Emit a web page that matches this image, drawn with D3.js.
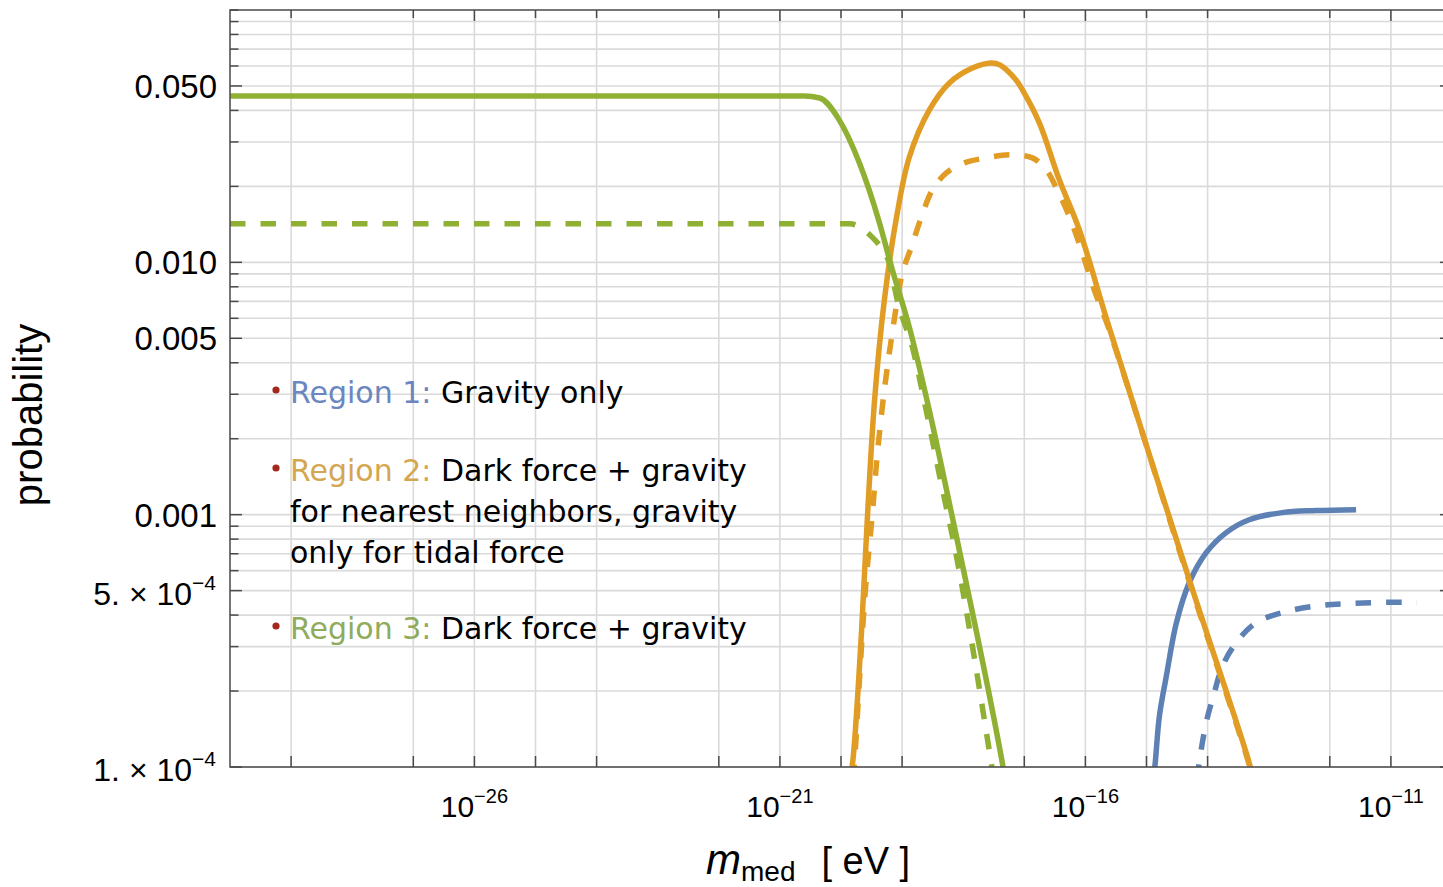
<!DOCTYPE html>
<html>
<head>
<meta charset="utf-8">
<script src="https://cdn.jsdelivr.net/npm/d3@7"></script>
<style>
body { margin: 0; background: #fff; }
</style>
</head>
<body>
<svg width="1443" height="887"></svg>
<script>
// values: log10(m_med / eV) and probability
var region1SolidLogM = [-14.89, -14.857, -14.79, -14.677, -14.51, -14.30, -14.023, -13.696, -13.32, -12.78, -12.224, -11.57];
var region1SolidP = [0.000089, 0.000104, 0.0001585, 0.000228, 0.0003735, 0.000538, 0.000707, 0.000849, 0.000955, 0.001019, 0.001038, 0.001047];
var region1DashLogM = [-14.17, -14.137, -14.023, -13.89, -13.76, -13.532, -13.205, -12.714, -12.175, -11.685, -11.145, -10.573];
var region1DashP = [0.000089, 0.000104, 0.00015, 0.000197, 0.00025, 0.000311, 0.000373, 0.000413, 0.000436, 0.000444, 0.000449, 0.000449];

var region2SolidLogM = [-19.86, -19.81, -19.665, -19.567, -19.45, -19.29, -19.09, -18.88, -18.553, -18.226, -17.85, -17.539, -17.40, -17.135, -17.03, -16.754, -16.427, -16.10, -15.61, -14.30, -13.32, -13.254];
var region2SolidP = [0.000089, 0.000104, 0.000341, 0.000982, 0.002853, 0.0071, 0.01514, 0.0262, 0.0402, 0.0514, 0.0589, 0.0617, 0.0606, 0.0528, 0.0482, 0.0357, 0.02123, 0.01346, 0.00551, 0.000553, 0.000104, 0.000089];
var region2DashLogM = [-19.81, -19.78, -19.714, -19.65, -19.583, -19.485, -19.403, -19.29, -19.16, -18.994, -18.847, -18.683, -18.504, -18.275, -17.98, -17.62, -17.244, -16.868, -16.64, -16.46, -16.26, -16.05, -15.855, -15.61, -14.30, -13.32, -13.254];
var region2DashP = [0.000089, 0.000104, 0.00019, 0.000341, 0.000568, 0.001019, 0.00176, 0.003126, 0.00526, 0.00909, 0.01151, 0.01514, 0.01937, 0.02262, 0.02477, 0.02594, 0.02667, 0.02594, 0.02324, 0.01937, 0.01514, 0.0109, 0.00778, 0.0054, 0.000543, 0.000102, 0.000087];

var region3SolidLogM = [-30, -28, -26, -24, -22, -21.2, -20.6, -20.35, -20.03, -19.70, -19.37, -19.16, -18.88, -18.55, -18.18, -17.78, -17.36, -17.31];
var region3SolidP = [0.0456, 0.0456, 0.0456, 0.0456, 0.0456, 0.0456, 0.0456, 0.0448, 0.0367, 0.0248, 0.01433, 0.00934, 0.00551, 0.00256, 0.000982, 0.000341, 0.000104, 0.000089];
var region3DashLogM = [-30, -28, -26, -24, -22, -20.5, -19.86, -19.53, -19.32, -19.21, -19.08, -18.82, -18.625, -18.38, -18.10, -17.84, -17.594, -17.53, -17.496];
var region3DashP = [0.01421, 0.01421, 0.01421, 0.01421, 0.01421, 0.01421, 0.01421, 0.01285, 0.0112, 0.00995, 0.0071, 0.0045, 0.002726, 0.001401, 0.000664, 0.000292, 0.000125, 0.0001, 0.000089];

// axis ticks
var xGridExp = [-29, -27, -26, -25, -24, -22, -21, -20, -19, -17, -16, -15, -14, -12, -11];
var xLabelExp = [-26, -21, -16, -11];
var yMajor = [0.05, 0.01, 0.005, 0.001, 0.0005, 0.0001];
var yLabels = ["0.050", "0.010", "0.005", "0.001", ["5.", "4"], ["1.", "4"]];

var svg = d3.select("svg"),
    plotL = 230, plotR = 1452, plotT = 10, plotB = 767;

var x = d3.scaleLog().domain([1e-30, 1e-10]).range([plotL, plotR]);
var y = d3.scaleLog().domain([1e-4, 0.1]).range([plotB, plotT]);

var yMinor = [];
[-4, -3, -2].forEach(function(d) {
  for (var k = 1; k <= 9; k++) yMinor.push(k * Math.pow(10, d));
});

svg.append("defs").append("clipPath").attr("id", "plot")
  .append("rect").attr("x", plotL).attr("y", plotT)
  .attr("width", plotR - plotL).attr("height", plotB - plotT);

// grid
var grid = svg.append("g").attr("stroke", "#dadada").attr("stroke-width", 1.6);
grid.selectAll(".hg").data(yMinor).enter().append("line")
  .attr("x1", plotL).attr("x2", plotR)
  .attr("y1", function(d) { return y(d); }).attr("y2", function(d) { return y(d); });
grid.selectAll(".vg").data(xGridExp).enter().append("line")
  .attr("y1", plotT).attr("y2", plotB)
  .attr("x1", function(d) { return x(Math.pow(10, d)); })
  .attr("x2", function(d) { return x(Math.pow(10, d)); });

// curves
var smooth = d3.curveCatmullRom.alpha(0.5);
var series = [
  {m: region1SolidLogM, p: region1SolidP, color: "#5e81b5", dash: null, curve: smooth},
  {m: region1DashLogM, p: region1DashP, color: "#5e81b5", dash: "15.5,15", curve: smooth},
  {m: region2SolidLogM, p: region2SolidP, color: "#e19c24", dash: null, curve: smooth},
  {m: region2DashLogM, p: region2DashP, color: "#e19c24", dash: "15.5,15", curve: smooth},
  {m: region3SolidLogM, p: region3SolidP, color: "#8fb032", dash: null, curve: d3.curveMonotoneX},
  {m: region3DashLogM, p: region3DashP, color: "#8fb032", dash: "15.5,15", curve: d3.curveMonotoneX}
];

var curves = svg.append("g").attr("clip-path", "url(#plot)");
series.forEach(function(s) {
  var line = d3.line()
    .x(function(d) { return x(Math.pow(10, d[0])); })
    .y(function(d) { return y(d[1]); })
    .curve(s.curve);
  curves.append("path")
    .datum(d3.zip(s.m, s.p))
    .attr("fill", "none")
    .attr("stroke", s.color)
    .attr("stroke-width", 5.5)
    .attr("stroke-dasharray", s.dash)
    .attr("d", line);
});

// frame and ticks
var frame = svg.append("g").attr("stroke", "#4a4a4a").attr("stroke-width", 1.5);
frame.append("rect").attr("x", plotL).attr("y", plotT)
  .attr("width", plotR - plotL).attr("height", plotB - plotT).attr("fill", "none");

yMinor.concat([0.1]).forEach(function(v) {
  var len = yMajor.indexOf(v) >= 0 ? 12 : 8.5;
  frame.append("line").attr("x1", plotL).attr("x2", plotL + len).attr("y1", y(v)).attr("y2", y(v));
  frame.append("line").attr("x1", plotR).attr("x2", plotR - len).attr("y1", y(v)).attr("y2", y(v));
});
xGridExp.forEach(function(e) {
  var px = x(Math.pow(10, e));
  frame.append("line").attr("x1", px).attr("x2", px).attr("y1", plotB).attr("y2", plotB - 11);
  frame.append("line").attr("x1", px).attr("x2", px).attr("y1", plotT).attr("y2", plotT + (xLabelExp.indexOf(e) >= 0 ? 11 : 8));
});

// y tick labels
var yl = svg.append("g").attr("font-family", "'Liberation Sans', Arial, sans-serif")
  .attr("fill", "#000").attr("text-anchor", "end");
yMajor.forEach(function(v, i) {
  var lab = yLabels[i];
  if (typeof lab === "string") {
    yl.append("text").attr("x", 217).attr("y", y(v) + 12).attr("font-size", 33).text(lab);
  } else {
    var t = yl.append("text").attr("x", 216).attr("y", y(v) + 14).attr("font-size", 32);
    t.append("tspan").text(lab[0] + " \u00d7 10");
    t.append("tspan").attr("font-size", 21).attr("dy", -15).text("\u2212" + lab[1]);
  }
});

// x tick labels
var xl = svg.append("g").attr("font-family", "'Liberation Sans', Arial, sans-serif")
  .attr("fill", "#000").attr("text-anchor", "middle");
xLabelExp.forEach(function(e) {
  var t = xl.append("text").attr("x", x(Math.pow(10, e))).attr("y", 817).attr("font-size", 30);
  t.append("tspan").text("10");
  t.append("tspan").attr("font-size", 20).attr("dy", -14).text("\u2212" + (-e));
});

// axis titles
var xt = svg.append("text").attr("x", 706).attr("y", 874)
  .attr("font-family", "'Liberation Sans', Arial, sans-serif").attr("fill", "#000");
xt.append("tspan").attr("font-style", "italic").attr("font-size", 42).text("m");
xt.append("tspan").attr("font-size", 28).attr("dy", 7).text("med");
xt.append("tspan").attr("font-size", 38).attr("dy", -7).attr("dx", 26).text("[ eV ]");

svg.append("text")
  .attr("transform", "translate(42,415) rotate(-90)")
  .attr("text-anchor", "middle")
  .attr("font-family", "'Liberation Sans', Arial, sans-serif")
  .attr("font-size", 40).attr("fill", "#000")
  .text("probability");

// legend text
var legend = [
  {y: 403, head: "Region 1:", color: "#6b86c0", rest: " Gravity only"},
  {y: 481, head: "Region 2:", color: "#d5a650", rest: " Dark force + gravity"},
  {y: 522, head: null, rest: "for nearest neighbors, gravity"},
  {y: 563, head: null, rest: "only for tidal force"},
  {y: 639, head: "Region 3:", color: "#8fab5c", rest: " Dark force + gravity"}
];
var lg = svg.append("g").attr("font-family", "'DejaVu Sans', sans-serif").attr("font-size", 30);
legend.forEach(function(d) {
  var t = lg.append("text").attr("x", 290).attr("y", d.y).attr("fill", "#000");
  if (d.head) {
    lg.append("circle").attr("cx", 276).attr("cy", d.y - 13).attr("r", 3.6).attr("fill", "#a3291d");
    t.append("tspan").attr("fill", d.color).text(d.head);
  }
  t.append("tspan").style("white-space", "pre").text(d.rest);
});
</script>
</body>
</html>
